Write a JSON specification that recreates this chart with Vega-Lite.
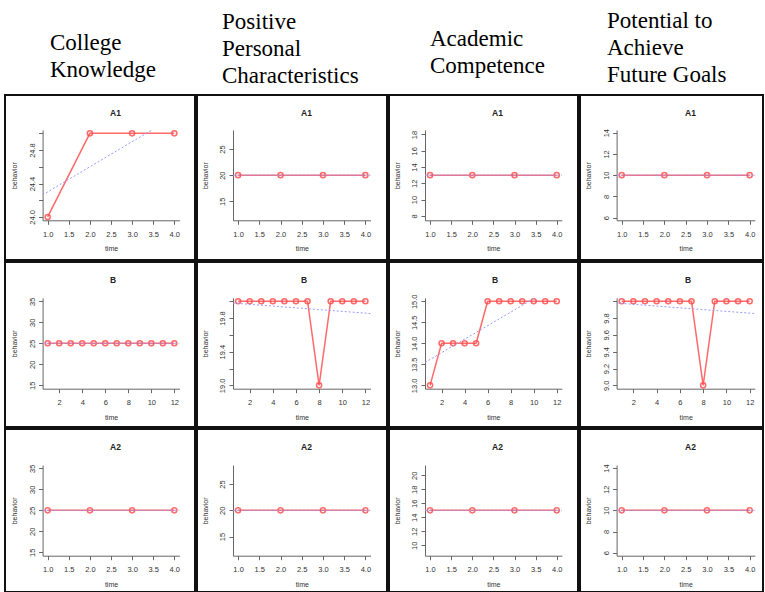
{
  "$schema": "https://vega.github.io/schema/vega-lite/v6.json",
  "background": "white",
  "padding": {"left": 4, "top": 10, "right": 0, "bottom": 0},
  "spacing": 0,
  "datasets": {
    "ck_A1": [{"s":"obs","time":1,"behavior":24},{"s":"obs","time":2,"behavior":25},{"s":"obs","time":3,"behavior":25},{"s":"obs","time":4,"behavior":25},{"s":"fit","time":0.88,"behavior":24.264},{"s":"fit","time":3.467,"behavior":25.04}],
    "ck_B": [{"s":"obs","time":1,"behavior":25},{"s":"obs","time":2,"behavior":25},{"s":"obs","time":3,"behavior":25},{"s":"obs","time":4,"behavior":25},{"s":"obs","time":5,"behavior":25},{"s":"obs","time":6,"behavior":25},{"s":"obs","time":7,"behavior":25},{"s":"obs","time":8,"behavior":25},{"s":"obs","time":9,"behavior":25},{"s":"obs","time":10,"behavior":25},{"s":"obs","time":11,"behavior":25},{"s":"obs","time":12,"behavior":25},{"s":"fit","time":0.56,"behavior":25},{"s":"fit","time":12.44,"behavior":25}],
    "ck_A2": [{"s":"obs","time":1,"behavior":25},{"s":"obs","time":2,"behavior":25},{"s":"obs","time":3,"behavior":25},{"s":"obs","time":4,"behavior":25},{"s":"fit","time":0.88,"behavior":25},{"s":"fit","time":4.12,"behavior":25}],
    "ppc_A1": [{"s":"obs","time":1,"behavior":20},{"s":"obs","time":2,"behavior":20},{"s":"obs","time":3,"behavior":20},{"s":"obs","time":4,"behavior":20},{"s":"fit","time":0.88,"behavior":20},{"s":"fit","time":4.12,"behavior":20}],
    "ppc_B": [{"s":"obs","time":1,"behavior":20},{"s":"obs","time":2,"behavior":20},{"s":"obs","time":3,"behavior":20},{"s":"obs","time":4,"behavior":20},{"s":"obs","time":5,"behavior":20},{"s":"obs","time":6,"behavior":20},{"s":"obs","time":7,"behavior":20},{"s":"obs","time":8,"behavior":19},{"s":"obs","time":9,"behavior":20},{"s":"obs","time":10,"behavior":20},{"s":"obs","time":11,"behavior":20},{"s":"obs","time":12,"behavior":20},{"s":"fit","time":0.56,"behavior":19.979},{"s":"fit","time":12.44,"behavior":19.854}],
    "ppc_A2": [{"s":"obs","time":1,"behavior":20},{"s":"obs","time":2,"behavior":20},{"s":"obs","time":3,"behavior":20},{"s":"obs","time":4,"behavior":20},{"s":"fit","time":0.88,"behavior":20},{"s":"fit","time":4.12,"behavior":20}],
    "ac_A1": [{"s":"obs","time":1,"behavior":13},{"s":"obs","time":2,"behavior":13},{"s":"obs","time":3,"behavior":13},{"s":"obs","time":4,"behavior":13},{"s":"fit","time":0.88,"behavior":13},{"s":"fit","time":4.12,"behavior":13}],
    "ac_B": [{"s":"obs","time":1,"behavior":13},{"s":"obs","time":2,"behavior":14},{"s":"obs","time":3,"behavior":14},{"s":"obs","time":4,"behavior":14},{"s":"obs","time":5,"behavior":14},{"s":"obs","time":6,"behavior":15},{"s":"obs","time":7,"behavior":15},{"s":"obs","time":8,"behavior":15},{"s":"obs","time":9,"behavior":15},{"s":"obs","time":10,"behavior":15},{"s":"obs","time":11,"behavior":15},{"s":"obs","time":12,"behavior":15},{"s":"fit","time":0.56,"behavior":13.545},{"s":"fit","time":10.107,"behavior":15.08}],
    "ac_A2": [{"s":"obs","time":1,"behavior":15},{"s":"obs","time":2,"behavior":15},{"s":"obs","time":3,"behavior":15},{"s":"obs","time":4,"behavior":15},{"s":"fit","time":0.88,"behavior":15},{"s":"fit","time":4.12,"behavior":15}],
    "pafg_A1": [{"s":"obs","time":1,"behavior":10},{"s":"obs","time":2,"behavior":10},{"s":"obs","time":3,"behavior":10},{"s":"obs","time":4,"behavior":10},{"s":"fit","time":0.88,"behavior":10},{"s":"fit","time":4.12,"behavior":10}],
    "pafg_B": [{"s":"obs","time":1,"behavior":10},{"s":"obs","time":2,"behavior":10},{"s":"obs","time":3,"behavior":10},{"s":"obs","time":4,"behavior":10},{"s":"obs","time":5,"behavior":10},{"s":"obs","time":6,"behavior":10},{"s":"obs","time":7,"behavior":10},{"s":"obs","time":8,"behavior":9},{"s":"obs","time":9,"behavior":10},{"s":"obs","time":10,"behavior":10},{"s":"obs","time":11,"behavior":10},{"s":"obs","time":12,"behavior":10},{"s":"fit","time":0.56,"behavior":9.979},{"s":"fit","time":12.44,"behavior":9.854}],
    "pafg_A2": [{"s":"obs","time":1,"behavior":10},{"s":"obs","time":2,"behavior":10},{"s":"obs","time":3,"behavior":10},{"s":"obs","time":4,"behavior":10},{"s":"fit","time":0.88,"behavior":10},{"s":"fit","time":4.12,"behavior":10}]
  },
  "hconcat": [
    {
      "title": {"text": ["College", "Knowledge"], "anchor": "start", "align": "left", "dx": 45, "offset": -11, "baseline": "bottom", "font": "Liberation Serif", "fontSize": 23, "fontWeight": "normal", "lineHeight": 27, "color": "black", "frame": "group"},
      "spacing": 0,
      "vconcat": [
        {"width": 190, "height": 165, "title": {"text": "A1", "dx": 105}, "data": {"name": "ck_A1"},
         "encoding": {
           "x": {"field": "time", "type": "quantitative", "title": "time", "scale": {"domain": [0.88, 4.12], "range": [37.6, 174.4], "nice": false, "zero": false}, "axis": {"values": [1, 1.5, 2, 2.5, 3, 3.5, 4], "format": ".1f", "offset": -39.7}},
           "y": {"field": "behavior", "type": "quantitative", "title": "behavior", "scale": {"domain": [23.96, 25.04], "range": [125.3, 35], "nice": false, "zero": false}, "axis": {"values": [24, 24.2, 24.4, 24.6, 24.8, 25], "labelExpr": "round(datum.value*10) % 4 == 0 ? format(datum.value, '.1f') : ''", "offset": -37.6}}
         },
         "layer": [
           {"transform": [{"filter": "datum.s == 'obs'"}], "mark": {"type": "line", "color": "#ff5050", "strokeWidth": 1.5, "opacity": 0.85}},
           {"transform": [{"filter": "datum.s == 'obs'"}], "mark": {"type": "point", "shape": "circle", "filled": false, "color": "#ff5050", "size": 26, "strokeWidth": 1.5, "opacity": 0.85}},
           {"transform": [{"filter": "datum.s == 'fit'"}], "mark": {"type": "line", "color": "#9a9aff", "strokeWidth": 1, "strokeDash": [2, 2]}}
         ]},
        {"width": 190, "height": 165, "title": {"text": "B", "dx": 105}, "data": {"name": "ck_B"},
         "encoding": {
           "x": {"field": "time", "type": "quantitative", "title": "time", "scale": {"domain": [0.56, 12.44], "range": [37.6, 174.4], "nice": false, "zero": false}, "axis": {"values": [2, 4, 6, 8, 10, 12], "format": "d", "offset": -38.3}},
           "y": {"field": "behavior", "type": "quantitative", "title": "behavior", "scale": {"domain": [14.2, 35.8], "range": [126.7, 35.9], "nice": false, "zero": false}, "axis": {"values": [15, 20, 25, 30, 35], "format": "d", "offset": -37.6}}
         },
         "layer": [
           {"transform": [{"filter": "datum.s == 'obs'"}], "mark": {"type": "line", "color": "#ff5050", "strokeWidth": 1.5, "opacity": 0.85}},
           {"transform": [{"filter": "datum.s == 'obs'"}], "mark": {"type": "point", "shape": "circle", "filled": false, "color": "#ff5050", "size": 26, "strokeWidth": 1.5, "opacity": 0.85}},
           {"transform": [{"filter": "datum.s == 'fit'"}], "mark": {"type": "line", "color": "#9a9aff", "strokeWidth": 1, "strokeDash": [2, 2]}}
         ]},
        {"width": 190, "height": 163, "title": {"text": "A2", "dx": 105}, "data": {"name": "ck_A2"},
         "encoding": {
           "x": {"field": "time", "type": "quantitative", "title": "time", "scale": {"domain": [0.88, 4.12], "range": [37.6, 174.4], "nice": false, "zero": false}, "axis": {"values": [1, 1.5, 2, 2.5, 3, 3.5, 4], "format": ".1f", "offset": -36.3}},
           "y": {"field": "behavior", "type": "quantitative", "title": "behavior", "scale": {"domain": [14.2, 35.8], "range": [126.7, 36], "nice": false, "zero": false}, "axis": {"values": [15, 20, 25, 30, 35], "format": "d", "offset": -37.6}}
         },
         "layer": [
           {"transform": [{"filter": "datum.s == 'obs'"}], "mark": {"type": "line", "color": "#ff5050", "strokeWidth": 1.5, "opacity": 0.85}},
           {"transform": [{"filter": "datum.s == 'obs'"}], "mark": {"type": "point", "shape": "circle", "filled": false, "color": "#ff5050", "size": 26, "strokeWidth": 1.5, "opacity": 0.85}},
           {"transform": [{"filter": "datum.s == 'fit'"}], "mark": {"type": "line", "color": "#9a9aff", "strokeWidth": 1, "strokeDash": [2, 2]}}
         ]}
      ]
    },
    {
      "title": {"text": ["Positive", "Personal", "Characteristics"], "anchor": "start", "align": "left", "dx": 25, "offset": -17, "baseline": "bottom", "font": "Liberation Serif", "fontSize": 23, "fontWeight": "normal", "lineHeight": 27, "color": "black", "frame": "group"},
      "spacing": 0,
      "vconcat": [
        {"width": 190, "height": 165, "title": {"text": "A1", "dx": 104}, "data": {"name": "ppc_A1"},
         "encoding": {
           "x": {"field": "time", "type": "quantitative", "title": "time", "scale": {"domain": [0.88, 4.12], "range": [36, 173.5], "nice": false, "zero": false}, "axis": {"values": [1, 1.5, 2, 2.5, 3, 3.5, 4], "format": ".1f", "offset": -39.7}},
           "y": {"field": "behavior", "type": "quantitative", "title": "behavior", "scale": {"domain": [11.36, 28.64], "range": [125.3, 35], "nice": false, "zero": false}, "axis": {"values": [15, 20, 25], "format": "d", "offset": -36}}
         },
         "layer": [
           {"transform": [{"filter": "datum.s == 'obs'"}], "mark": {"type": "line", "color": "#ff5050", "strokeWidth": 1.5, "opacity": 0.85}},
           {"transform": [{"filter": "datum.s == 'obs'"}], "mark": {"type": "point", "shape": "circle", "filled": false, "color": "#ff5050", "size": 26, "strokeWidth": 1.5, "opacity": 0.85}},
           {"transform": [{"filter": "datum.s == 'fit'"}], "mark": {"type": "line", "color": "#9a9aff", "strokeWidth": 1, "strokeDash": [2, 2]}}
         ]},
        {"width": 190, "height": 165, "title": {"text": "B", "dx": 104}, "data": {"name": "ppc_B"},
         "encoding": {
           "x": {"field": "time", "type": "quantitative", "title": "time", "scale": {"domain": [0.56, 12.44], "range": [36, 173.5], "nice": false, "zero": false}, "axis": {"values": [2, 4, 6, 8, 10, 12], "format": "d", "offset": -38.3}},
           "y": {"field": "behavior", "type": "quantitative", "title": "behavior", "scale": {"domain": [18.96, 20.04], "range": [126.7, 35.9], "nice": false, "zero": false}, "axis": {"values": [19, 19.2, 19.4, 19.6, 19.8, 20], "labelExpr": "round(datum.value*10) % 4 == 2 ? format(datum.value, '.1f') : ''", "offset": -36}}
         },
         "layer": [
           {"transform": [{"filter": "datum.s == 'obs'"}], "mark": {"type": "line", "color": "#ff5050", "strokeWidth": 1.5, "opacity": 0.85}},
           {"transform": [{"filter": "datum.s == 'obs'"}], "mark": {"type": "point", "shape": "circle", "filled": false, "color": "#ff5050", "size": 26, "strokeWidth": 1.5, "opacity": 0.85}},
           {"transform": [{"filter": "datum.s == 'fit'"}], "mark": {"type": "line", "color": "#9a9aff", "strokeWidth": 1, "strokeDash": [2, 2]}}
         ]},
        {"width": 190, "height": 163, "title": {"text": "A2", "dx": 104}, "data": {"name": "ppc_A2"},
         "encoding": {
           "x": {"field": "time", "type": "quantitative", "title": "time", "scale": {"domain": [0.88, 4.12], "range": [36, 173.5], "nice": false, "zero": false}, "axis": {"values": [1, 1.5, 2, 2.5, 3, 3.5, 4], "format": ".1f", "offset": -36.3}},
           "y": {"field": "behavior", "type": "quantitative", "title": "behavior", "scale": {"domain": [11.36, 28.64], "range": [126.7, 36], "nice": false, "zero": false}, "axis": {"values": [15, 20, 25], "format": "d", "offset": -36}}
         },
         "layer": [
           {"transform": [{"filter": "datum.s == 'obs'"}], "mark": {"type": "line", "color": "#ff5050", "strokeWidth": 1.5, "opacity": 0.85}},
           {"transform": [{"filter": "datum.s == 'obs'"}], "mark": {"type": "point", "shape": "circle", "filled": false, "color": "#ff5050", "size": 26, "strokeWidth": 1.5, "opacity": 0.85}},
           {"transform": [{"filter": "datum.s == 'fit'"}], "mark": {"type": "line", "color": "#9a9aff", "strokeWidth": 1, "strokeDash": [2, 2]}}
         ]}
      ]
    },
    {
      "title": {"text": ["Academic", "Competence"], "anchor": "start", "align": "left", "dx": 41, "offset": -7, "baseline": "bottom", "font": "Liberation Serif", "fontSize": 23, "fontWeight": "normal", "lineHeight": 27, "color": "black", "frame": "group"},
      "spacing": 0,
      "vconcat": [
        {"width": 189, "height": 165, "title": {"text": "A1", "dx": 103}, "data": {"name": "ac_A1"},
         "encoding": {
           "x": {"field": "time", "type": "quantitative", "title": "time", "scale": {"domain": [0.88, 4.12], "range": [36, 172.8], "nice": false, "zero": false}, "axis": {"values": [1, 1.5, 2, 2.5, 3, 3.5, 4], "format": ".1f", "offset": -39.7}},
           "y": {"field": "behavior", "type": "quantitative", "title": "behavior", "scale": {"domain": [7.45, 18.55], "range": [125.3, 35], "nice": false, "zero": false}, "axis": {"values": [8, 10, 12, 14, 16, 18], "format": "d", "offset": -36}}
         },
         "layer": [
           {"transform": [{"filter": "datum.s == 'obs'"}], "mark": {"type": "line", "color": "#ff5050", "strokeWidth": 1.5, "opacity": 0.85}},
           {"transform": [{"filter": "datum.s == 'obs'"}], "mark": {"type": "point", "shape": "circle", "filled": false, "color": "#ff5050", "size": 26, "strokeWidth": 1.5, "opacity": 0.85}},
           {"transform": [{"filter": "datum.s == 'fit'"}], "mark": {"type": "line", "color": "#9a9aff", "strokeWidth": 1, "strokeDash": [2, 2]}}
         ]},
        {"width": 189, "height": 165, "title": {"text": "B", "dx": 103}, "data": {"name": "ac_B"},
         "encoding": {
           "x": {"field": "time", "type": "quantitative", "title": "time", "scale": {"domain": [0.56, 12.44], "range": [36, 172.8], "nice": false, "zero": false}, "axis": {"values": [2, 4, 6, 8, 10, 12], "format": "d", "offset": -38.3}},
           "y": {"field": "behavior", "type": "quantitative", "title": "behavior", "scale": {"domain": [12.92, 15.08], "range": [126.7, 35.9], "nice": false, "zero": false}, "axis": {"values": [13, 13.5, 14, 14.5, 15], "format": ".1f", "offset": -36}}
         },
         "layer": [
           {"transform": [{"filter": "datum.s == 'obs'"}], "mark": {"type": "line", "color": "#ff5050", "strokeWidth": 1.5, "opacity": 0.85}},
           {"transform": [{"filter": "datum.s == 'obs'"}], "mark": {"type": "point", "shape": "circle", "filled": false, "color": "#ff5050", "size": 26, "strokeWidth": 1.5, "opacity": 0.85}},
           {"transform": [{"filter": "datum.s == 'fit'"}], "mark": {"type": "line", "color": "#9a9aff", "strokeWidth": 1, "strokeDash": [2, 2]}}
         ]},
        {"width": 189, "height": 163, "title": {"text": "A2", "dx": 103}, "data": {"name": "ac_A2"},
         "encoding": {
           "x": {"field": "time", "type": "quantitative", "title": "time", "scale": {"domain": [0.88, 4.12], "range": [36, 172.8], "nice": false, "zero": false}, "axis": {"values": [1, 1.5, 2, 2.5, 3, 3.5, 4], "format": ".1f", "offset": -36.3}},
           "y": {"field": "behavior", "type": "quantitative", "title": "behavior", "scale": {"domain": [8.52, 21.48], "range": [126.7, 36], "nice": false, "zero": false}, "axis": {"values": [10, 12, 14, 16, 18, 20], "format": "d", "offset": -36}}
         },
         "layer": [
           {"transform": [{"filter": "datum.s == 'obs'"}], "mark": {"type": "line", "color": "#ff5050", "strokeWidth": 1.5, "opacity": 0.85}},
           {"transform": [{"filter": "datum.s == 'obs'"}], "mark": {"type": "point", "shape": "circle", "filled": false, "color": "#ff5050", "size": 26, "strokeWidth": 1.5, "opacity": 0.85}},
           {"transform": [{"filter": "datum.s == 'fit'"}], "mark": {"type": "line", "color": "#9a9aff", "strokeWidth": 1, "strokeDash": [2, 2]}}
         ]}
      ]
    },
    {
      "title": {"text": ["Potential to", "Achieve", "Future Goals"], "anchor": "start", "align": "left", "dx": 27, "offset": -16, "baseline": "bottom", "font": "Liberation Serif", "fontSize": 23, "fontWeight": "normal", "lineHeight": 27, "color": "black", "frame": "group"},
      "spacing": 0,
      "vconcat": [
        {"width": 183, "height": 165, "title": {"text": "A1", "dx": 105}, "data": {"name": "pafg_A1"},
         "encoding": {
           "x": {"field": "time", "type": "quantitative", "title": "time", "scale": {"domain": [0.88, 4.12], "range": [36.6, 174.8], "nice": false, "zero": false}, "axis": {"values": [1, 1.5, 2, 2.5, 3, 3.5, 4], "format": ".1f", "offset": -39.7}},
           "y": {"field": "behavior", "type": "quantitative", "title": "behavior", "scale": {"domain": [5.75, 14.25], "range": [125.3, 35], "nice": false, "zero": false}, "axis": {"values": [6, 8, 10, 12, 14], "format": "d", "offset": -36.6}}
         },
         "layer": [
           {"transform": [{"filter": "datum.s == 'obs'"}], "mark": {"type": "line", "color": "#ff5050", "strokeWidth": 1.5, "opacity": 0.85}},
           {"transform": [{"filter": "datum.s == 'obs'"}], "mark": {"type": "point", "shape": "circle", "filled": false, "color": "#ff5050", "size": 26, "strokeWidth": 1.5, "opacity": 0.85}},
           {"transform": [{"filter": "datum.s == 'fit'"}], "mark": {"type": "line", "color": "#9a9aff", "strokeWidth": 1, "strokeDash": [2, 2]}}
         ]},
        {"width": 183, "height": 165, "title": {"text": "B", "dx": 105}, "data": {"name": "pafg_B"},
         "encoding": {
           "x": {"field": "time", "type": "quantitative", "title": "time", "scale": {"domain": [0.56, 12.44], "range": [36.6, 174.8], "nice": false, "zero": false}, "axis": {"values": [2, 4, 6, 8, 10, 12], "format": "d", "offset": -38.3}},
           "y": {"field": "behavior", "type": "quantitative", "title": "behavior", "scale": {"domain": [8.96, 10.04], "range": [126.7, 35.9], "nice": false, "zero": false}, "axis": {"values": [9, 9.2, 9.4, 9.6, 9.8, 10], "labelExpr": "datum.value < 9.95 ? format(datum.value, '.1f') : ''", "offset": -36.6}}
         },
         "layer": [
           {"transform": [{"filter": "datum.s == 'obs'"}], "mark": {"type": "line", "color": "#ff5050", "strokeWidth": 1.5, "opacity": 0.85}},
           {"transform": [{"filter": "datum.s == 'obs'"}], "mark": {"type": "point", "shape": "circle", "filled": false, "color": "#ff5050", "size": 26, "strokeWidth": 1.5, "opacity": 0.85}},
           {"transform": [{"filter": "datum.s == 'fit'"}], "mark": {"type": "line", "color": "#9a9aff", "strokeWidth": 1, "strokeDash": [2, 2]}}
         ]},
        {"width": 183, "height": 163, "title": {"text": "A2", "dx": 105}, "data": {"name": "pafg_A2"},
         "encoding": {
           "x": {"field": "time", "type": "quantitative", "title": "time", "scale": {"domain": [0.88, 4.12], "range": [36.6, 174.8], "nice": false, "zero": false}, "axis": {"values": [1, 1.5, 2, 2.5, 3, 3.5, 4], "format": ".1f", "offset": -36.3}},
           "y": {"field": "behavior", "type": "quantitative", "title": "behavior", "scale": {"domain": [5.72, 14.28], "range": [126.7, 36], "nice": false, "zero": false}, "axis": {"values": [6, 8, 10, 12, 14], "format": "d", "offset": -36.6}}
         },
         "layer": [
           {"transform": [{"filter": "datum.s == 'obs'"}], "mark": {"type": "line", "color": "#ff5050", "strokeWidth": 1.5, "opacity": 0.85}},
           {"transform": [{"filter": "datum.s == 'obs'"}], "mark": {"type": "point", "shape": "circle", "filled": false, "color": "#ff5050", "size": 26, "strokeWidth": 1.5, "opacity": 0.85}},
           {"transform": [{"filter": "datum.s == 'fit'"}], "mark": {"type": "line", "color": "#9a9aff", "strokeWidth": 1, "strokeDash": [2, 2]}}
         ]}
      ]
    }
  ],
  "config": {
    "view": {"stroke": "#111", "strokeWidth": 2},
    "title": {"anchor": "start", "align": "center", "offset": -22.5, "baseline": "middle", "font": "Liberation Sans", "fontSize": 8.5, "fontWeight": "bold", "color": "#222", "frame": "group"},
    "axis": {"grid": false, "domainColor": "#666", "tickColor": "#666", "domainWidth": 1, "tickWidth": 1, "tickSize": 4, "labelFont": "Liberation Sans", "labelFontSize": 7.5, "labelColor": "#333", "titleFont": "Liberation Sans", "titleFontSize": 7, "titleFontWeight": "normal", "titleColor": "#333", "labelOverlap": false, "labelFlush": false},
    "axisX": {"labelPadding": 6, "titlePadding": 7},
    "axisY": {"labelAngle": 270, "labelAlign": "center", "labelBaseline": "bottom", "labelPadding": 2.3, "titlePadding": 10.5}
  }
}
